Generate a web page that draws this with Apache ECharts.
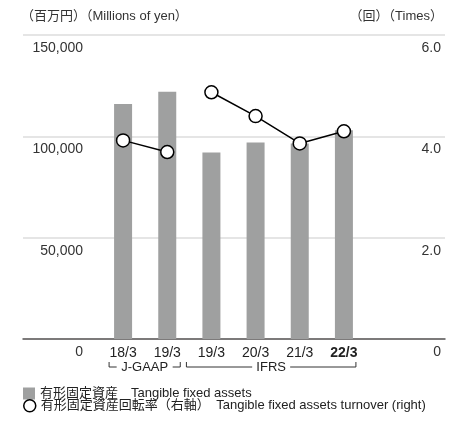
<!DOCTYPE html>
<html><head><meta charset="utf-8">
<script src="https://cdn.jsdelivr.net/npm/echarts@6/dist/echarts.min.js"></script>
<style>html,body{margin:0;padding:0;background:#fff}#c{width:464px;height:422px}</style>
</head><body><div id="c"></div>
<script>
const categories = ['18/3', '19/3', '19/3', '20/3', '21/3', '22/3'];
const assets = [116000, 122000, 92000, 97000, 96500, 103000];
const turnoverJGAAP = [3.92, 3.69, '-', '-', '-', '-'];
const turnoverIFRS = ['-', '-', 4.87, 4.40, 3.86, 4.10];
const leftTicks = [0, 50000, 100000, 150000];
const rightTicks = [0, 2, 4, 6];
const nameBar = '有形固定資産　Tangible fixed assets';
const nameLine = '有形固定資産回転率（右軸）　Tangible fixed assets turnover (right)';

const FONT = '"Liberation Sans", "Noto Sans CJK JP", sans-serif';
const TXT = '#333';
const chart = echarts.init(document.getElementById('c'), null, {renderer: 'canvas'});

const gTop = 35, gBottom = 83;
const legendText = {color: '#222', fontSize: 13, fontFamily: FONT};
const option = {
  animation: false,
  textStyle: {fontFamily: FONT},
  grid: [
    {left: 23, right: 19, top: gTop, bottom: gBottom},
    {left: 101, right: 98, top: gTop, bottom: gBottom}
  ],
  xAxis: [
    {gridIndex: 0, type: 'value', min: 0, max: 1, show: true,
     axisLine: {show: true, lineStyle: {color: '#595757', width: 1.5}},
     axisTick: {show: false}, axisLabel: {show: false}, splitLine: {show: false}},
    {gridIndex: 1, type: 'category', data: categories,
     axisLine: {show: false}, axisTick: {show: false},
     axisLabel: {interval: 0, margin: 7, color: '#222', fontSize: 14, fontFamily: FONT,
       formatter: (v, i) => i === categories.length - 1 ? '{b|' + v + '}' : v,
       rich: {b: {fontWeight: 'bold', fontSize: 14, color: '#222', fontFamily: FONT}}}}
  ],
  yAxis: [
    {gridIndex: 0, type: 'value', min: leftTicks[0], max: leftTicks[leftTicks.length - 1], interval: 50000,
     axisLine: {show: false}, axisTick: {show: false},
     splitLine: {show: true, lineStyle: {color: '#dcdcdc', width: 1.5}},
     axisLabel: {inside: true, margin: 60, align: 'right', verticalAlign: 'top', padding: [6, 0, 0, 0],
       color: TXT, fontSize: 14, fontFamily: FONT,
       formatter: v => v.toLocaleString('en-US')}},
    {gridIndex: 0, type: 'value', position: 'right', min: rightTicks[0], max: rightTicks[rightTicks.length - 1], interval: 2,
     axisLine: {show: false}, axisTick: {show: false}, splitLine: {show: false},
     axisLabel: {inside: true, margin: 4, align: 'right', verticalAlign: 'top', padding: [6, 0, 0, 0],
       color: TXT, fontSize: 14, fontFamily: FONT,
       formatter: v => v === 0 ? '0' : v.toFixed(1)}},
    {gridIndex: 1, type: 'value', min: 0, max: 150000, interval: 50000, show: false, splitLine: {show: false}},
    {gridIndex: 1, type: 'value', min: 0, max: 6, interval: 2, show: false, splitLine: {show: false}}
  ],
  legend: [
    {left: 18, top: 382, itemWidth: 12, itemHeight: 12, itemGap: 4, selectedMode: false, textStyle: legendText,
     data: [{name: nameBar, icon: 'rect', itemStyle: {color: '#9fa0a0'}}]},
    {left: 18, top: 394, itemWidth: 12, itemHeight: 12, itemGap: 4, selectedMode: false, textStyle: legendText,
     data: [{name: nameLine, icon: 'circle', itemStyle: {color: '#fff', borderColor: '#000', borderWidth: 1.5}}]}
  ],
  series: [
    {name: nameBar, type: 'bar', xAxisIndex: 1, yAxisIndex: 2, data: assets, barWidth: 18,
     itemStyle: {color: '#9fa0a0'}, z: 2},
    {name: nameLine, type: 'line', xAxisIndex: 1, yAxisIndex: 3, data: turnoverJGAAP,
     symbol: 'circle', symbolSize: 13, showAllSymbol: true,
     lineStyle: {color: '#000', width: 1.5},
     itemStyle: {color: '#fff', borderColor: '#000', borderWidth: 1.5}, z: 5},
    {name: nameLine, type: 'line', xAxisIndex: 1, yAxisIndex: 3, data: turnoverIFRS,
     symbol: 'circle', symbolSize: 13, showAllSymbol: true,
     lineStyle: {color: '#000', width: 1.5},
     itemStyle: {color: '#fff', borderColor: '#000', borderWidth: 1.5}, z: 5}
  ]
};
chart.setOption(option);

// Annotations: header units and accounting-standard brackets
const px = i => chart.convertToPixel({xAxisIndex: 1}, i);
const by = 367, tick = 5;
function bracket(x1, x2, label, textW) {
  const mid = (x1 + x2) / 2;
  const gap = textW / 2 + 5;
  return [
    {type: 'polyline', shape: {points: [[x1, by - tick], [x1, by], [mid - gap, by]]},
     style: {stroke: '#333', lineWidth: 1, fill: null}},
    {type: 'polyline', shape: {points: [[mid + gap, by], [x2, by], [x2, by - tick]]},
     style: {stroke: '#333', lineWidth: 1, fill: null}},
    {type: 'text', x: mid, y: by, style: {text: label, fill: '#222', font: '13px ' + FONT,
      align: 'center', verticalAlign: 'middle'}}
  ];
}
const jx1 = px(0) - 14, jx2 = px(1) + 13;
const ix1 = px(2) - 25, ix2 = px(5) + 12;
chart.setOption({
  graphic: [
    {type: 'text', x: 21, y: 16, style: {text: '（百万円）（Millions of yen）', fill: TXT, font: '13px ' + FONT, verticalAlign: 'middle'}},
    {type: 'text', x: 443, y: 16, style: {text: '（回）（Times）', fill: TXT, font: '13px ' + FONT, align: 'right', verticalAlign: 'middle'}},
    ...bracket(jx1, jx2, 'J-GAAP', 46),
    ...bracket(ix1, ix2, 'IFRS', 28)
  ]
});
</script></body></html>
